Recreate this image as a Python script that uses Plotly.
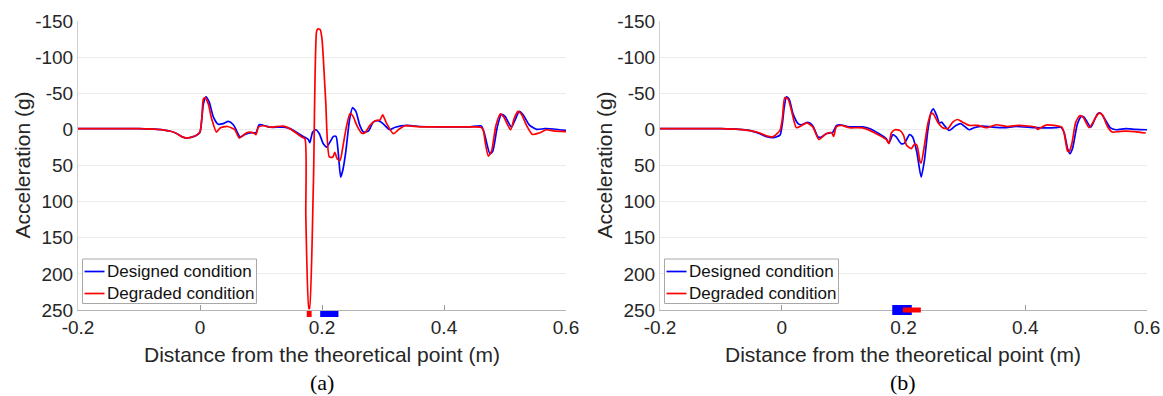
import plotly.graph_objects as go

# ---------------- data ----------------
# Panel (a)
a_des_x = [-0.2, -0.15, -0.1, -0.07, -0.05, -0.04, -0.03, -0.022, -0.015, -0.0055, 0, 0.003, 0.0055, 0.0098,
           0.015, 0.022, 0.03, 0.038, 0.0465, 0.0546, 0.06, 0.0656, 0.0738, 0.0847, 0.0918, 0.097, 0.1066, 0.115,
           0.1366, 0.1475, 0.158, 0.169, 0.1776, 0.18, 0.1847, 0.19, 0.1956, 0.2022, 0.2077, 0.213, 0.2186, 0.223,
           0.2268, 0.2306, 0.234, 0.2393, 0.245, 0.25, 0.2555, 0.262, 0.268, 0.276, 0.284, 0.292, 0.3, 0.311, 0.32,
           0.34, 0.36, 0.4, 0.44, 0.459, 0.462, 0.466, 0.4754, 0.48, 0.487, 0.494, 0.5, 0.5105, 0.516, 0.5235,
           0.53, 0.54, 0.552, 0.565, 0.58, 0.6]
a_des_y = [-1, -1, -1, 0, 2.3, 5, 10, 12, 11, 8, 4, -15, -35, -45,
           -38, -17, -7, -8, -11, -6.4, 2, 10.5, 7, 4.6, 4.6, -6.4, -5, -3,
           -3, -1, 4, 9.8, 14, 18.5, 3.7, 0.5, 6, 20, 24.6, 17.7, 9.8, 9.8,
           34, 66, 57, 29, -12.6, -30, -25, -5.6, 3.7, 2.3, -10, -12, -8, 0.5, -3,
           -5.5, -4, -3.5, -3.5, -5, -4, 5, 34, 30, -2, -20.6, -18, -3, -12, -25,
           -20, -6, 0, -1, -0.5, 1.5]

a_deg_x = [-0.2, -0.15, -0.1, -0.07, -0.05, -0.04, -0.03, -0.022, -0.015, -0.0055, 0, 0.003, 0.0055, 0.0082,
           0.0137, 0.019, 0.027, 0.033, 0.045, 0.057, 0.0645, 0.0765, 0.087, 0.0918, 0.0956, 0.104, 0.115, 0.1366,
           0.1475, 0.1667, 0.172, 0.1735, 0.1785, 0.1795, 0.186, 0.191, 0.193, 0.197, 0.2, 0.206, 0.212, 0.2175,
           0.221, 0.225, 0.2295, 0.235, 0.2405, 0.246, 0.251, 0.257, 0.265, 0.27, 0.2787, 0.287, 0.295, 0.2995,
           0.306, 0.317, 0.326, 0.336, 0.36, 0.4, 0.44, 0.46, 0.464, 0.468, 0.4727, 0.478, 0.485, 0.4925, 0.498,
           0.509, 0.515, 0.521, 0.527, 0.535, 0.545, 0.556, 0.568, 0.579, 0.6]
a_deg_y = [-1, -1, -1, 0, 2.3, 5, 10, 12, 11, 8, 3, -15, -42, -44,
           -35, -15, 3.7, -2, -4, 0.5, 12, 4.6, 4.6, 7.3, -3, -5, -3, -4.6,
           -1, 10.5, 13, 120, 248, 248, 71, -135, -139, -138, -125, -40, 38, 38.6,
           31.7, 41, 43, 20, -5.6, -22, -18, -5.6, 5, 5, -5.6, -12, -13, -20,
           -8, 6, 0, -5, -3.5, -3.5, -3.5, -3, 0, 20, 37, 30, -5, -21.5, -17,
           0.5, -15, -25, -21, -6, 7, 5, 0.5, 2, 3]

# Panel (b)
b_des_x = [-0.2, -0.15, -0.1, -0.07, -0.05, -0.036, -0.025, -0.014, -0.003, 0.001, 0.004, 0.0077, 0.012, 0.0186,
           0.0268, 0.032, 0.043, 0.051, 0.0596, 0.065, 0.073, 0.084, 0.0896, 0.095, 0.111, 0.133, 0.144, 0.16,
           0.1716, 0.176, 0.1826, 0.188, 0.196, 0.2016, 0.21, 0.215, 0.2218, 0.229, 0.2344, 0.24, 0.2454, 0.249,
           0.2546, 0.259, 0.2628, 0.267, 0.275, 0.286, 0.294, 0.308, 0.316, 0.33, 0.346, 0.3656, 0.385, 0.4175,
           0.45, 0.4585, 0.464, 0.4695, 0.4732, 0.4776, 0.4858, 0.4923, 0.4967, 0.5077, 0.5186, 0.524, 0.532,
           0.54, 0.549, 0.565, 0.5814, 0.6]
b_des_y = [-1, -1, -1, 0, 2, 6, 10, 11.5, 8, -8, -30, -45, -42, -21.5,
           -8, -6.4, -9.6, -5, 10.5, 10.5, 6, 3.7, -5, -6.4, -3.5, -3.5, -1.3, 6,
           12.8, 19, 7.3, 10.5, 19.7, 19, 7.3, 10.5, 31, 66, 42.6, 1.4, -24, -28.4,
           -19, -8.7, -10, -5.5, 1.4, -5.5, -8, 0.5, -2.3, -4.6, -3.2, -2.3, -4, -2.3,
           -2.3, -3, 4.6, 26.6, 33.5, 26.6, -8, -17.9, -17, -3, -21.5, -22.4, -12.4,
           -2, 0.5, -1, 0, 0.5]

b_deg_x = [-0.2, -0.15, -0.1, -0.07, -0.05, -0.036, -0.025, -0.014, -0.003, 0.001, 0.005, 0.0104, 0.016, 0.024,
           0.032, 0.041, 0.051, 0.061, 0.073, 0.082, 0.0852, 0.0896, 0.098, 0.111, 0.133, 0.16, 0.1716, 0.176,
           0.18, 0.186, 0.194, 0.2, 0.205, 0.2127, 0.218, 0.222, 0.2273, 0.229, 0.2344, 0.24, 0.2454, 0.249,
           0.2563, 0.2645, 0.2727, 0.2809, 0.289, 0.297, 0.308, 0.322, 0.336, 0.352, 0.37, 0.39, 0.4175, 0.42,
           0.434, 0.46, 0.464, 0.4695, 0.472, 0.4765, 0.483, 0.4897, 0.495, 0.505, 0.516, 0.5213, 0.5268, 0.535,
           0.543, 0.554, 0.565, 0.58, 0.598]
b_deg_y = [-1, -1, -1, 0, 2, 5, 9, 10, 1.4, -14.7, -44, -42, -26, -2.3,
           -5, -9, -3.5, 14, 6, 4.6, 9.6, -3.5, -5.5, -2.3, -2, 8, 14, 19.7,
           5, 0.5, 1.4, 8, 22, 26.6, 20.6, 22, 45, 46.5, 22, -7.8, -22.4, -21.5,
           -10, -2.3, -1, -10, -13.7, -10, -5.5, -5.5, -2.3, -6.4, -4, -5.5, -3, 0,
           -6, -3, 6, 30, 31, 20, -10, -19, -17, -2.3, -17, -22.4, -20, -4,
           3.7, 3, 2.3, 3, 5]

# Interval markers below the axis (x extents, m)
a_red_span = [0.175, 0.183]
a_blue_span = [0.197, 0.227]
b_blue_span = [0.1815, 0.2136]
b_red_span = [0.199, 0.2285]

x_ticks = [-0.2, 0, 0.2, 0.4, 0.6]
x_ticktext = ["-0.2", "0", "0.2", "0.4", "0.6"]
y_ticks = [-150, -100, -50, 0, 50, 100, 150, 200, 250]
y_ticktext = ["-150", "-100", "-50", "0", "50", "100", "150", "200", "250"]

series_names = ["Designed condition", "Degraded condition"]
panel_labels = ["(a)", "(b)"]

# ---------------- figure ----------------
W, H = 1163, 396
BLUE, RED = "#0000FF", "#FF0000"
SANS = "Liberation Sans, Arial, sans-serif"
SERIF = "Liberation Serif, Times New Roman, serif"
TXT = "#262626"

fig = go.Figure()
line_kw = dict(width=1.7, shape="spline", smoothing=0.6)
fig.add_trace(go.Scatter(x=a_des_x, y=a_des_y, mode="lines", name=series_names[0],
                         line=dict(color=BLUE, **line_kw), xaxis="x", yaxis="y"))
fig.add_trace(go.Scatter(x=a_deg_x, y=a_deg_y, mode="lines", name=series_names[1],
                         line=dict(color=RED, **line_kw), xaxis="x", yaxis="y"))
fig.add_trace(go.Scatter(x=b_des_x, y=b_des_y, mode="lines", name=series_names[0],
                         line=dict(color=BLUE, **line_kw), xaxis="x2", yaxis="y2"))
fig.add_trace(go.Scatter(x=b_deg_x, y=b_deg_y, mode="lines", name=series_names[1],
                         line=dict(color=RED, **line_kw), xaxis="x2", yaxis="y2"))

px_x = lambda p: p / W
px_y = lambda p: 1 - p / H

dom_a = [px_x(78), px_x(566)]
dom_b = [px_x(660), px_x(1147)]
dom_y = [px_y(310), px_y(21)]

def xax(domain, anchor):
    return dict(domain=domain, anchor=anchor, range=[-0.2, 0.6], tickvals=x_ticks, ticktext=x_ticktext,
                ticks="inside", ticklen=5, tickcolor="#9a9a9a", showline=True, linecolor="#b4b4b4",
                linewidth=1, showgrid=False, zeroline=False, automargin=False,
                tickfont=dict(family=SANS, size=19, color=TXT))

def yax(anchor):
    return dict(domain=dom_y, anchor=anchor, range=[250, -150], tickvals=y_ticks, ticktext=y_ticktext,
                ticks="", showline=True, linecolor="#d0d0d0", linewidth=1, showgrid=True,
                gridcolor="#ececec", gridwidth=1, zeroline=False, automargin=False,
                tickfont=dict(family=SANS, size=19, color=TXT))

shapes = []
annotations = []

def rect(xref, span, top, bottom, color):
    shapes.append(dict(type="rect", xref=xref, yref="paper", x0=span[0], x1=span[1],
                       y0=px_y(bottom), y1=px_y(top), fillcolor=color, line=dict(width=0), layer="above"))

rect("x", a_red_span, 311, 317, RED)
rect("x", a_blue_span, 311, 317, BLUE)
rect("x2", b_blue_span, 305, 315, BLUE)
rect("x2", b_red_span, 307.5, 312.5, RED)

# legend box drawn inside each panel (lower-left)
def legend_box(left):
    shapes.append(dict(type="rect", xref="paper", yref="paper", x0=px_x(left), x1=px_x(left + 174),
                       y0=px_y(303.5), y1=px_y(259), fillcolor="white", line=dict(color="#a8a8a8", width=1),
                       layer="above"))
    for i, (name, col) in enumerate(zip(series_names, [BLUE, RED])):
        yc = 271.5 + 22 * i
        shapes.append(dict(type="line", xref="paper", yref="paper", x0=px_x(left + 2), x1=px_x(left + 22),
                           y0=px_y(yc), y1=px_y(yc), line=dict(color=col, width=1.7), layer="above"))
        annotations.append(dict(text=name, xref="paper", yref="paper", x=px_x(left + 22.5), y=px_y(yc),
                                xanchor="left", yanchor="middle", showarrow=False,
                                font=dict(family=SANS, size=17, color="#111111")))

legend_box(82.5)
legend_box(664.5)

for dom, lab in [(dom_a, panel_labels[0]), (dom_b, panel_labels[1])]:
    cx = (dom[0] + dom[1]) / 2
    annotations.append(dict(text="Distance from the theoretical point (m)", xref="paper", yref="paper",
                            x=cx, y=px_y(354), xanchor="center", yanchor="middle", showarrow=False,
                            font=dict(family=SANS, size=21, color=TXT)))
    annotations.append(dict(text=lab, xref="paper", yref="paper", x=cx, y=px_y(382),
                            xanchor="center", yanchor="middle", showarrow=False,
                            font=dict(family=SERIF, size=22, color="#000000")))
    annotations.append(dict(text="Acceleration (g)", xref="paper", yref="paper", x=dom[0] - px_x(56),
                            y=(dom_y[0] + dom_y[1]) / 2, xanchor="center", yanchor="middle", textangle=-90,
                            showarrow=False, font=dict(family=SANS, size=21, color=TXT)))

fig.update_layout(
    width=W, height=H, margin=dict(l=0, r=0, t=0, b=0),
    paper_bgcolor="white", plot_bgcolor="white",
    xaxis=xax(dom_a, "y"), yaxis=yax("x"),
    xaxis2=xax(dom_b, "y2"), yaxis2=yax("x2"),
    shapes=shapes, annotations=annotations, showlegend=False,
)

fig.write_html("out.html")
